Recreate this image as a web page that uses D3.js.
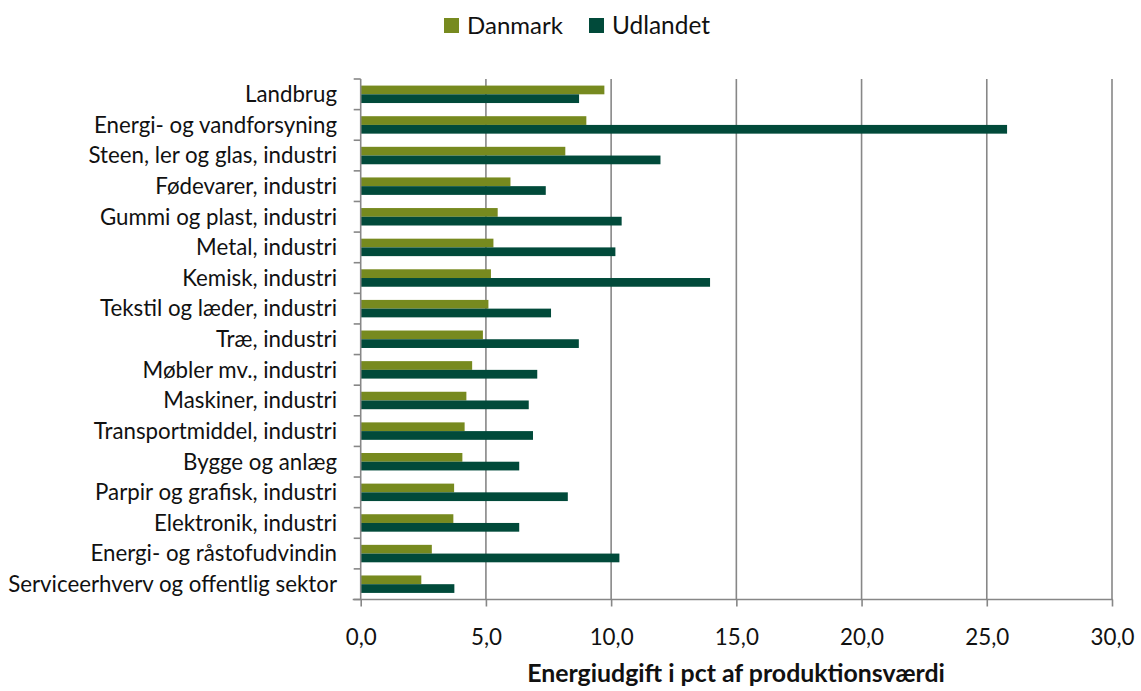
<!DOCTYPE html>
<html><head><meta charset="utf-8">
<script src="https://cdn.jsdelivr.net/npm/d3@7"></script>
<style>body{margin:0;background:#fff}svg{display:block}text{font-family:Lato,"Open Sans",sans-serif;fill:#111}</style>
</head><body><svg id="c" width="1141" height="691"></svg>
<script>
const categories = ["Landbrug","Energi- og vandforsyning","Steen, ler og glas, industri","Fødevarer, industri","Gummi og plast, industri","Metal, industri","Kemisk, industri","Tekstil og læder, industri","Træ, industri","Møbler mv., industri","Maskiner, industri","Transportmiddel, industri","Bygge og anlæg","Parpir og grafisk, industri","Elektronik, industri","Energi- og råstofudvindin","Serviceerhverv og offentlig sektor"];
const danmark = [9.73,9.01,8.17,5.98,5.47,5.30,5.20,5.10,4.88,4.45,4.22,4.15,4.06,3.73,3.70,2.84,2.42];
const udlandet = [8.72,25.81,11.97,7.39,10.42,10.17,13.95,7.60,8.71,7.05,6.71,6.88,6.33,8.27,6.33,10.33,3.74];
const seriesNames = ["Danmark","Udlandet"];
const colors = ["#778a1f","#014a3a"];
const xTicks = [0,5,10,15,20,25,30];
const xTitle = "Energiudgift i pct af produktionsværdi";

const svg = d3.select("#c");
const L=360.7, R=1112, T=79, B=599.5;
const x = d3.scaleLinear().domain([0,30]).range([L,R]);
const y = d3.scaleBand().domain(categories).range([T,B]).paddingInner(0.43).paddingOuter(0.215);
const ys = d3.scaleBand().domain(seriesNames).range([0,y.bandwidth()]);
const grey="#878787";

// gridlines
svg.append("g").selectAll("line").data(xTicks.filter(d=>d>0)).join("line")
 .attr("x1",d=>x(d)).attr("x2",d=>x(d)).attr("y1",T).attr("y2",B)
 .attr("stroke",grey).attr("stroke-width",1.6);

// bars
const data = categories.map((c,i)=>({c, vals:[danmark[i],udlandet[i]]}));
const g = svg.append("g");
g.selectAll("g").data(data).join("g").attr("transform",d=>`translate(0,${y(d.c)})`)
 .selectAll("rect").data(d=>d.vals.map((v,j)=>({v,s:seriesNames[j],j}))).join("rect")
 .attr("x",x(0)).attr("y",d=>ys(d.s)).attr("height",ys.bandwidth())
 .attr("width",d=>x(d.v)-x(0)).attr("fill",d=>colors[d.j]);

// x axis
const xa = svg.append("g").attr("transform",`translate(0,${B})`)
 .call(d3.axisBottom(x).tickValues(xTicks).tickSize(7).tickPadding(23).tickFormat(d=>d3.format(".1f")(d).replace(".",",")));
xa.select(".domain").attr("stroke",grey).attr("stroke-width",1.6).attr("d",`M${L-8},0H${R+1}`);
xa.selectAll(".tick line").attr("stroke",grey).attr("stroke-width",1.6);
const xt = xa.selectAll("text").attr("font-size",20).attr("fill","#111").style("font-family","Lato");
const lastTick = xt.filter(d=>d===30).node();
xt.attr("font-size",20*44/lastTick.getComputedTextLength());

// y axis
const yTickPos = categories.map(c=>y(c)-y.step()*y.paddingInner()/2).concat([B]);
svg.append("line").attr("x1",L).attr("x2",L).attr("y1",T).attr("y2",B).attr("stroke",grey).attr("stroke-width",1.6);
svg.append("g").selectAll("line").data(yTickPos).join("line")
 .attr("x1",L-7).attr("x2",L).attr("y1",d=>d).attr("y2",d=>d).attr("stroke",grey).attr("stroke-width",1.6);
const labs = svg.append("g").selectAll("text").data(categories).join("text")
 .attr("x",337).attr("y",d=>y(d)+y.bandwidth()/2).attr("dy","0.35em")
 .attr("text-anchor","end").attr("font-size",20).text(d=>d);
// fit font size to reference width of longest label (~329px)
const longest = labs.filter(d=>d===categories[16]).node();
const fs = 20*329/longest.getComputedTextLength();
labs.attr("font-size",fs);

// x title
const tt = svg.append("text").attr("x",736).attr("y",682).attr("text-anchor","middle")
 .attr("font-size",20).attr("font-weight","bold").text(xTitle);
tt.attr("font-size",20*418/tt.node().getComputedTextLength());

// legend
const leg = svg.append("g");
const legX=[444,589], legTX=[467,612], legW=[96,98];
seriesNames.forEach((s,i)=>{
  leg.append("rect").attr("x",legX[i]).attr("y",18).attr("width",15).attr("height",15).attr("fill",colors[i]);
  const t=leg.append("text").attr("x",legTX[i]).attr("y",25.5).attr("dy","0.35em").attr("font-size",22).text(s);
  t.attr("font-size",22*legW[i]/t.node().getComputedTextLength());
});
</script></body></html>
